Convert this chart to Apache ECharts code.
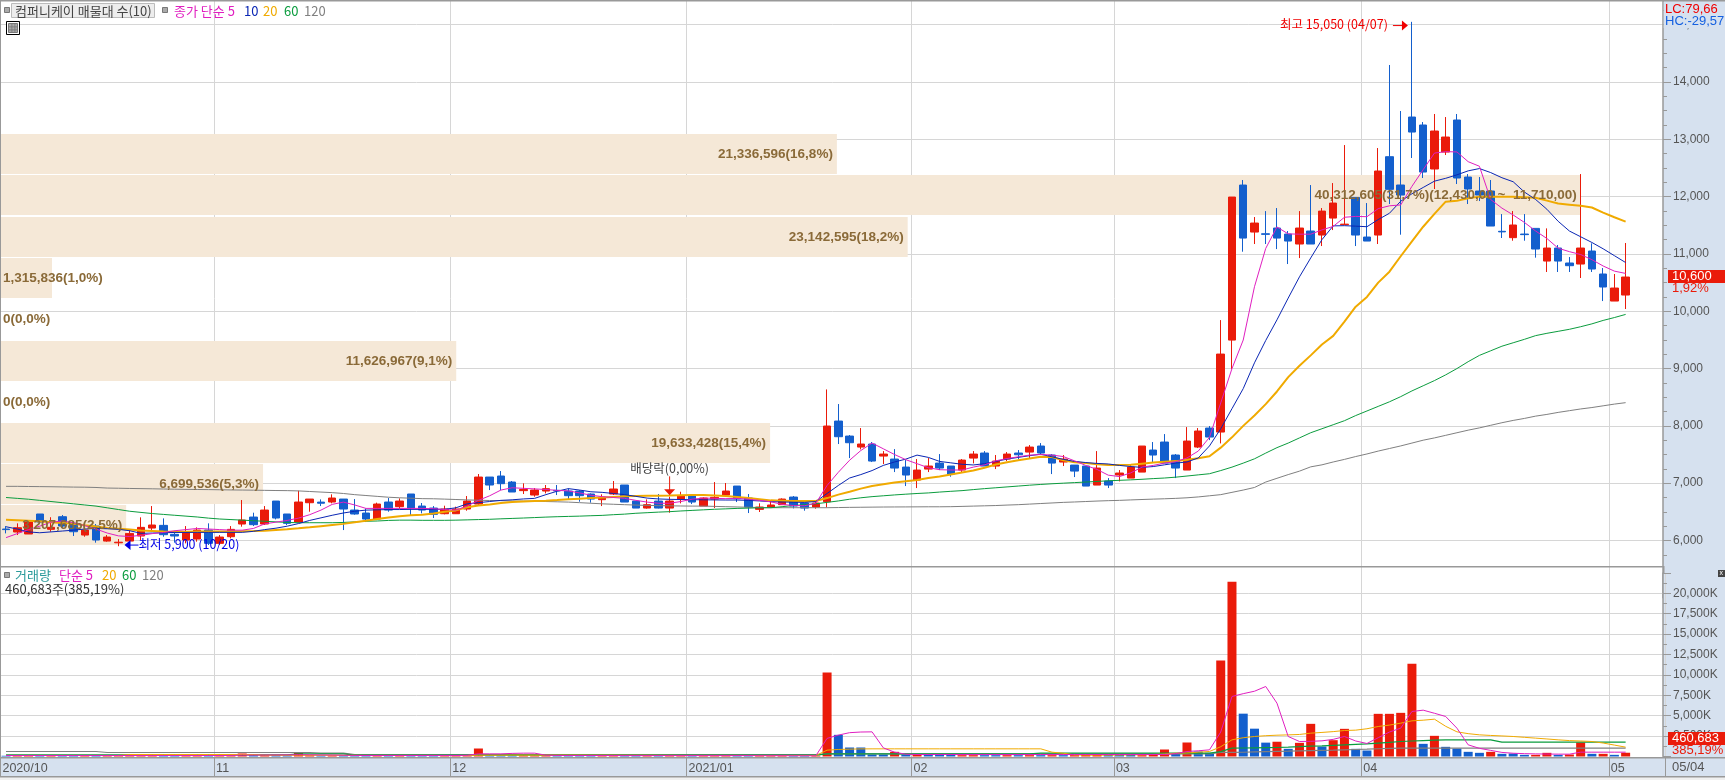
<!DOCTYPE html>
<html>
<head>
<meta charset="utf-8">
<style>
  html, body { margin: 0; padding: 0; background: #fff; }
  #chart { width: 1725px; height: 780px; }
</style>
<script src="https://cdn.jsdelivr.net/npm/echarts@6/dist/echarts.min.js"></script>
</head>
<body>
<div id="chart"></div>
<script>
const dates = ['10/05','10/06','10/07','10/08','10/12','10/13','10/14','10/15','10/16','10/19','10/20','10/21','10/22','10/23','10/26','10/27','10/28','10/29','10/30',
  '11/02','11/03','11/04','11/05','11/06','11/09','11/10','11/11','11/12','11/13','11/16','11/17','11/18','11/19','11/20','11/23','11/24','11/25','11/26','11/27','11/30',
  '12/01','12/02','12/03','12/04','12/07','12/08','12/09','12/10','12/11','12/14','12/15','12/16','12/17','12/18','12/21','12/22','12/23','12/24','12/28','12/29','12/30',
  '01/04','01/05','01/06','01/07','01/08','01/11','01/12','01/13','01/14','01/15','01/18','01/19','01/20','01/21','01/22','01/25','01/26','01/27','01/28','01/29',
  '02/01','02/02','02/03','02/04','02/05','02/08','02/09','02/10','02/15','02/16','02/17','02/18','02/19','02/22','02/23','02/24','02/25','02/26',
  '03/02','03/03','03/04','03/05','03/08','03/09','03/10','03/11','03/12','03/15','03/16','03/17','03/18','03/19','03/22','03/23','03/24','03/25','03/26','03/29','03/30','03/31',
  '04/01','04/02','04/05','04/06','04/07','04/08','04/09','04/12','04/13','04/14','04/15','04/16','04/19','04/20','04/21','04/22','04/23','04/26','04/27','04/28','04/29','04/30',
  '05/03','05/04']
// empty room on the right of the last candle
const blankDays = ['', '', '']
const monthStarts = ['10/05', '11/02', '12/01', '01/04', '02/01', '03/02', '04/01', '05/03']
const monthLabels = ['2020/10', '11', '12', '2021/01', '02', '03', '04', '05']

const opens = [6200,6148,6113,6462,6195,6415,6299,6095,6252,5990,5960,5990,6078,6217,6264,6107,6008,6025,6182,5950,6066,
  6287,6409,6287,6688,6462,6322,6659,6670,6671,6723,6531,6479,6374,6671,6590,6811,6601,6566,6467,6467,6549,6636,7107,7125,7020,
  6870,6793,6863,6875,6863,6863,6811,6712,6811,6968,6688,6566,6688,6566,6723,6776,6601,6723,6793,6950,6741,6543,6578,6625,6758,6654,6584,
  6676,8084,7822,7630,7683,7473,7421,7281,7054,7246,7351,7299,7229,7438,7526,7299,7421,7526,7543,7648,7491,7369,7316,7299,6967,7037,7142,7089,
  7194,7578,7718,7491,7229,7630,7962,7892,9497,12202,11382,11352,11452,11347,11173,11400,11330,11626,11510,11987,11295,11330,12697,12203,
  13389,13250,12482,12778,13337,12342,12098,12098,11395,11284,11347,11446,10876,11103,10842,10824,11051,10650,10178,10283]
const closes = [6190,6223,6322,6322,6230,6252,6153,6182,6008,6060,5970,6124,6229,6270,6101,6078,6136,6182,5950,6060,6194,
  6357,6276,6531,6392,6299,6671,6723,6650,6741,6549,6462,6374,6636,6531,6688,6566,6531,6456,6549,6549,6688,7107,6968,6991,6846,
  6890,6880,6904,6865,6782,6782,6723,6753,6898,6671,6566,6625,6566,6688,6782,6671,6741,6753,6863,6729,6584,6584,6619,6723,6601,6566,6654,
  7997,7811,7706,7683,7386,7508,7264,7142,7229,7299,7264,7159,7403,7508,7299,7386,7508,7496,7630,7526,7351,7421,7211,6950,7264,6967,7177,7281,
  7648,7491,7351,7264,7735,7910,7805,9253,11993,11277,11539,11342,11277,11225,11452,11173,11748,11888,11520,11330,11225,12447,12127,12028,
  13127,12429,13145,13040,12325,12133,12028,11487,11385,11505,11337,11086,11103,10876,10795,11103,10737,10423,10405,10597]
const lows = [6124,6095,6113,6300,6153,6212,6078,6066,5962,5979,5900,5962,6008,6182,6066,5962,5950,5979,5921,5921,6037,
  6241,6252,6270,6368,6270,6310,6502,6601,6648,6182,6450,6322,6357,6502,6549,6444,6473,6392,6456,6462,6520,6625,6880,6880,6846,
  6811,6764,6822,6793,6706,6677,6660,6601,6793,6671,6566,6555,6560,6485,6648,6636,6601,6566,6764,6671,6479,6497,6578,6625,6560,6520,6555,
  6577,7683,7438,7590,7369,7334,7194,6950,6915,7194,7229,7113,7194,7345,7299,7246,7386,7415,7438,7508,7159,7299,7107,6950,6967,6915,7031,7089,
  7194,7351,7351,7089,7229,7613,7752,7694,8990,11039,11173,11173,11085,10824,10928,11173,11138,11417,11504,11138,11225,11173,11871,11336,
  12674,12325,12133,12726,12220,11871,11923,11487,11278,11231,11231,10935,10685,10685,10685,10580,10685,10178,10178,10039]
const highs = [6252,6299,6357,6462,6406,6444,6328,6252,6287,6095,6025,6182,6404,6601,6386,6170,6252,6229,6299,6095,6252,
  6706,6485,6601,6688,6462,6869,6723,6717,6805,6723,6723,6560,6660,6741,6735,6811,6654,6601,6607,6590,6776,7160,7107,7212,7038,
  6997,6915,6968,6968,6909,6880,6822,6805,7038,6968,6688,6717,6811,6764,6851,6776,6753,7020,7003,6950,6811,6648,6694,6735,6776,6654,6706,
  8636,8381,7840,7962,7718,7560,7595,7403,7421,7438,7508,7299,7421,7560,7560,7491,7543,7578,7665,7700,7508,7491,7316,7299,7560,7089,7229,7334,
  7648,7718,7857,7508,7979,7962,7997,9846,11993,12290,11644,11748,11801,11400,11748,12202,11801,12237,12900,11987,11888,12848,14297,13494,
  15050,13302,13442,13389,13442,12394,12342,12290,11696,11749,11696,11446,11446,11156,10946,12394,11185,10754,10650,11191]

const ma5 = [6050,6120,6190,6250,6320,6340,6310,6260,6200,6130,6080,6070,6090,6120,6140,6170,6190,6210,6200,6190,6180,6180,6210,6290,6320,6350,6390,6450,6530,6630,6670,6620,6560,6560,6560,6560,6560,6560,6555,6540,6530,6600,6700,6780,6880,6920,6910,6900,6890,6875,6865,6830,6790,6765,6750,6735,6700,6670,6650,6650,6680,6720,6740,6735,6730,6735,6720,6700,6675,6630,6610,6607,6650,6960,7190,7400,7570,7700,7600,7500,7410,7340,7270,7235,7230,7230,7280,7320,7390,7430,7460,7490,7500,7490,7465,7390,7310,7240,7140,7115,7180,7280,7310,7350,7375,7440,7560,7800,8400,9000,9498,10428,11097,11470,11350,11345,11345,11420,11480,11640,11655,11650,11790,11840,11855,12180,12470,12760,12785,12780,12610,12530,11950,11800,11680,11550,11400,11270,11100,11040,10990,10900,10790,10700,10660]
const ma10 = [6240,6200,6150,6135,6150,6165,6180,6200,6210,6205,6195,6170,6125,6130,6135,6140,6140,6142,6142,6142,6142,6142,6160,6190,6215,6250,6295,6350,6395,6440,6480,6510,6530,6535,6540,6540,6543,6543,6543,6545,6570,6640,6660,6680,6700,6710,6725,6735,6800,6860,6905,6880,6850,6840,6820,6800,6770,6740,6725,6718,6715,6712,6710,6708,6706,6706,6700,6690,6677,6672,6668,6665,6680,6820,6960,7090,7150,7220,7310,7370,7420,7490,7450,7380,7355,7330,7318,7340,7380,7420,7450,7480,7505,7460,7415,7380,7360,7345,7335,7310,7290,7275,7290,7320,7350,7370,7440,7650,7950,8300,8650,9100,9490,9850,10230,10600,10930,11250,11490,11493,11485,11475,11600,11710,11920,12050,12160,12270,12320,12380,12450,12490,12420,12330,12260,12080,11950,11780,11570,11400,11300,11200,11090,10970,10850]
const ma20 = [6360,6355,6345,6335,6320,6305,6290,6265,6245,6220,6205,6190,6175,6165,6155,6153,6153,6155,6155,6155,6158,6160,6165,6172,6185,6195,6212,6230,6250,6270,6290,6320,6345,6375,6400,6425,6440,6450,6470,6500,6525,6580,6610,6630,6655,6670,6680,6690,6695,6705,6718,6730,6740,6750,6760,6770,6776,6780,6782,6785,6790,6793,6793,6785,6775,6760,6740,6720,6700,6695,6690,6688,6690,6740,6800,6850,6905,6950,6980,7010,7035,7055,7090,7115,7150,7185,7220,7270,7325,7365,7400,7430,7460,7455,7400,7365,7350,7330,7318,7316,7320,7340,7360,7375,7385,7410,7435,7470,7620,7800,8000,8180,8380,8600,8850,9050,9230,9420,9570,9820,10080,10250,10500,10690,10960,11220,11475,11700,11912,11930,11970,12000,12000,12000,12000,11990,11980,11930,11880,11860,11840,11810,11720,11640,11563]
const ma60 = [6750,6735,6720,6700,6680,6660,6640,6620,6600,6570,6540,6510,6490,6470,6455,6440,6425,6410,6390,6375,6365,6355,6345,6335,6325,6315,6310,6310,6310,6310,6315,6325,6335,6340,6350,6355,6355,6352,6352,6352,6355,6360,6365,6370,6378,6385,6392,6400,6408,6415,6420,6425,6432,6438,6450,6460,6475,6485,6495,6503,6515,6525,6535,6545,6552,6560,6565,6570,6572,6590,6610,6625,6640,6665,6690,6720,6745,6765,6780,6795,6808,6820,6830,6845,6858,6870,6888,6905,6920,6935,6950,6965,6978,6990,7000,7010,7020,7030,7042,7050,7058,7068,7080,7090,7105,7125,7145,7165,7220,7280,7350,7425,7525,7620,7700,7790,7880,7950,8020,8090,8180,8260,8340,8420,8510,8610,8700,8790,8890,9000,9120,9230,9310,9390,9450,9510,9575,9615,9650,9685,9730,9780,9840,9890,9945]
const ma120 = [6945,6945,6942,6940,6938,6935,6932,6930,6925,6915,6912,6908,6905,6902,6898,6895,6892,6890,6888,6885,6882,6880,6878,6875,6872,6870,6865,6855,6845,6835,6820,6800,6785,6770,6755,6745,6738,6730,6728,6722,6715,6708,6702,6698,6695,6690,6688,6685,6680,6675,6670,6660,6650,6640,6632,6625,6618,6612,6608,6605,6602,6600,6600,6595,6590,6585,6580,6575,6572,6572,6572,6572,6572,6572,6575,6578,6580,6582,6584,6585,6586,6587,6588,6588,6590,6595,6600,6605,6610,6618,6625,6635,6645,6655,6665,6672,6680,6688,6695,6700,6708,6715,6722,6728,6735,6745,6760,6780,6800,6840,6880,6925,7020,7085,7150,7210,7285,7320,7370,7415,7465,7510,7560,7605,7650,7700,7750,7790,7835,7880,7925,7965,8010,8055,8095,8130,8170,8200,8235,8265,8295,8320,8350,8380,8405]

// thousands of shares
const volumes = [90,100,110,120,90,100,110,120,130,90,80,120,110,130,100,90,100,110,130,120,140,370,150,170,160,130,450,130,110,120,150,130,110,120,110,130,140,100,90,110,100,180,980,110,120,130,120,110,130,100,110,120,110,100,130,120,100,110,90,120,130,110,100,120,110,100,120,110,100,120,110,100,110,10294,2655,1103,1103,245,245,572,245,200,200,200,200,160,160,160,160,160,160,160,160,160,160,160,200,200,200,200,200,160,200,858,370,1716,612,450,11760,21405,5250,3410,1700,1810,940,1675,4003,1225,2000,3390,940,735,5229,5229,5350,11356,1552,2532,1185,980,572,450,572,327,368,204,204,450,204,245,1716,327,327,204,461]
const volumeUp = [0,1,1,0,1,0,0,1,0,1,1,1,1,1,0,0,1,1,0,1,1,1,0,1,0,0,1,1,0,1,0,0,0,1,0,1,0,0,0,1,1,1,1,0,0,0,1,1,1,0,0,0,0,1,1,0,0,1,0,1,1,0,1,1,1,0,0,1,1,1,0,0,1,1,0,0,0,0,0,1,0,1,0,0,0,1,1,0,0,1,0,1,0,1,0,1,1,1,0,0,0,1,1,1,0,1,0,0,1,1,0,0,0,1,0,1,1,0,1,1,0,0,1,1,1,1,0,1,0,0,0,0,1,0,0,0,1,1,0,1,1,0,1,0,1]
const vma5 = [120,120,120,120,120,120,120,120,120,120,120,120,120,120,120,120,120,120,120,120,130,170,170,180,190,200,220,210,190,180,160,130,120,120,120,120,120,120,120,120,120,140,327,327,327,380,408,408,160,130,120,120,120,120,120,110,110,110,110,110,110,110,110,110,110,110,110,100,100,100,90,90,90,2220,2620,2920,3000,3020,1060,530,280,245,245,245,245,245,245,245,245,245,245,245,245,245,245,245,245,245,245,245,245,245,245,245,350,612,700,817,3000,7353,7700,8000,8579,6536,2451,1838,1860,1920,2100,2451,1900,1593,2300,3000,3472,5515,5678,5300,4902,3472,1430,1000,750,500,400,350,320,300,290,286,531,531,531,531,531]
const vma20 = [130,130,130,130,130,130,130,130,130,130,130,245,245,245,245,245,245,245,245,245,245,245,245,160,160,160,150,150,150,150,140,140,130,130,130,130,130,130,130,120,120,120,160,160,160,170,170,170,170,170,170,170,160,160,160,150,150,150,140,140,130,130,130,130,130,130,120,120,120,120,120,120,120,776,860,900,930,940,940,940,940,940,940,940,940,940,940,940,940,940,940,940,940,530,400,200,165,165,170,180,200,220,245,300,408,430,530,613,1200,2042,2300,2451,2550,2610,2650,2700,2860,2950,3050,3186,3230,3400,3676,3850,4085,4371,4450,4575,3700,3023,2800,2655,2580,2520,2451,2350,2250,2150,2042,1950,1900,1838,1650,1400,1144]
const vma60 = [200,200,200,200,200,200,200,200,200,200,200,200,200,200,200,200,200,200,200,200,200,200,200,200,200,200,327,327,327,327,327,160,160,160,160,160,160,160,160,160,160,160,160,160,160,160,160,160,160,160,160,160,160,160,160,160,160,160,160,160,160,160,160,160,160,160,160,160,160,160,160,160,160,330,330,330,330,330,330,330,330,330,330,330,330,330,330,330,330,330,330,330,410,410,410,410,410,410,410,410,410,410,410,410,410,410,410,410,600,1021,1040,1060,1080,1100,1144,1200,1260,1307,1370,1430,1490,1552,1640,1720,1838,1900,1950,2000,2042,2042,2042,2042,2042,1756,1756,1756,1756,1756,1756,1756,1756,1756,1756,1756,1756]
const vma120 = [612,612,612,612,612,612,612,612,612,490,490,490,490,490,490,490,490,490,490,490,490,490,490,490,490,490,490,490,410,410,410,245,245,245,245,245,245,245,245,245,245,245,245,245,245,245,245,245,245,245,245,245,245,245,245,245,245,245,245,245,245,245,245,245,245,245,245,245,245,245,245,245,245,327,327,327,327,327,327,327,327,327,327,327,327,327,327,327,327,327,327,327,327,327,327,327,327,327,327,327,327,327,327,327,327,327,327,327,500,500,520,560,600,640,660,690,720,745,770,817,860,900,950,990,1021,1021,1021,1021,1021,1021,1021,1021,1021,1021,1021,1021,1021,1021,1021,1021,1021,1021,1021,1021,1021]

// 매물대: shares at each price band
const bandLows = [12395, 11679, 10946, 10231, 9515, 8782, 8050, 7352, 6636, 5921]
const bandHighs = [13093, 12377, 11644, 10929, 10213, 9480, 8765, 8050, 7334, 6619]
const bandVolumes = [21336596, 40312605, 23142595, 1315836, 0, 11626967, 0, 19633428, 6699536, 3207685]
const bandLabels = ['21,336,596(16,8%)', '40,312,605(31,7%)(12,430,00 ~  11,710,00)', '23,142,595(18,2%)', '1,315,836(1,0%)', '0(0,0%)',
  '11,626,967(9,1%)', '0(0,0%)', '19,633,428(15,4%)', '6,699,536(5,3%)', '3,207,685(2,5%)']

const highNote = '최고 15,050 (04/07)'
const lowNote = '최저 5,900 (10/20)'
const exDivNote = '배당락(0,00%)'

const RED = '#ea1b0a'
const BLUE = '#135fcd'
const MAGENTA = '#e01fc0'
const NAVY = '#0a26b4'
const ORANGE = '#f0aa00'
const GREEN = '#0b9c3e'
const GRAY = '#808080'
const GRID = '#d6d6d6'
const PANEL = '#d6e1ef'
const BORDER = '#999999'
const KR = '"Noto Sans CJK KR", "Liberation Sans", sans-serif'
const NUM = '"Liberation Sans", "Noto Sans CJK KR", sans-serif'

function isMonthStart(value) {
  return monthStarts.indexOf(value) >= 0
}

function box(x, y, w, h, fill, z, stroke) {
  return { type: 'rect', z, shape: { x, y, width: w, height: h }, style: { fill, stroke: stroke || null, lineWidth: stroke ? 1 : 0 }, silent: true }
}

function label(x, y, text, fill, size, z, extra) {
  return {
    type: 'text', z, x, y, silent: true,
    style: Object.assign({ text, fill, font: size + 'px ' + KR, verticalAlign: 'middle', align: 'left' }, extra || {})
  }
}

function renderBand(params, api) {
  const i = params.dataIndex
  if (!bandVolumes[i]) return null
  const a = api.coord([0, bandHighs[i]])
  const b = api.coord([bandVolumes[i], bandLows[i]])
  return {
    type: 'rect',
    shape: { x: 0, y: a[1], width: b[0], height: b[1] - a[1] },
    style: { fill: '#f5e8d7' }
  }
}

function renderBandLabel(params, api) {
  const i = params.dataIndex
  const end = api.coord([bandVolumes[i], bandLows[i]])[0]
  const mid = (api.coord([0, bandHighs[i]])[1] + api.coord([0, bandLows[i]])[1]) / 2
  const narrow = end < 110
  return {
    type: 'text',
    x: narrow ? 3 : end - 4,
    y: mid,
    style: {
      text: bandLabels[i],
      fill: '#8a6a38',
      font: 'bold 13.5px ' + NUM,
      align: narrow ? 'left' : 'right',
      verticalAlign: 'middle'
    }
  }
}

function renderHigh(params, api) {
  const p = api.coord([api.value(0), api.value(1)])
  const tip = p[0] - 4
  return {
    type: 'group',
    children: [
      { type: 'line', shape: { x1: tip - 15, y1: p[1], x2: tip - 5, y2: p[1] }, style: { stroke: '#f00000', lineWidth: 1 } },
      { type: 'polygon', shape: { points: [[tip, p[1]], [tip - 6, p[1] - 5], [tip - 6, p[1] + 5]] }, style: { fill: '#f00000' } },
      { type: 'text', x: tip - 20, y: p[1] - 1, style: { text: highNote, fill: '#f00000', font: '12.5px ' + KR, align: 'right', verticalAlign: 'middle' } }
    ]
  }
}

function renderLow(params, api) {
  const p = api.coord([api.value(0), api.value(1)])
  const tip = p[0] + 6
  return {
    type: 'group',
    children: [
      { type: 'line', shape: { x1: tip + 5, y1: p[1], x2: tip + 14, y2: p[1] }, style: { stroke: '#0000e6', lineWidth: 1 } },
      { type: 'polygon', shape: { points: [[tip, p[1]], [tip + 6, p[1] - 5], [tip + 6, p[1] + 5]] }, style: { fill: '#0000e6' } },
      { type: 'text', x: tip + 14, y: p[1] - 1, style: { text: lowNote, fill: '#0000e6', font: '12.5px ' + KR, align: 'left', verticalAlign: 'middle' } }
    ]
  }
}

function renderExDiv(params, api) {
  const p = api.coord([api.value(0), api.value(1)])
  return {
    type: 'group',
    children: [
      { type: 'line', shape: { x1: p[0], y1: p[1] - 19, x2: p[0], y2: p[1] - 5 }, style: { stroke: RED, lineWidth: 1 } },
      { type: 'polygon', shape: { points: [[p[0], p[1]], [p[0] - 5.5, p[1] - 6], [p[0] + 5.5, p[1] - 6]] }, style: { fill: RED } },
      { type: 'text', x: p[0], y: p[1] - 27, style: { text: exDivNote, fill: '#444', font: '12.5px ' + KR, align: 'center', verticalAlign: 'middle' } }
    ]
  }
}

function maLine(name, data, color, width, axis, z) {
  return {
    name, type: 'line', data, xAxisIndex: axis, yAxisIndex: axis, z,
    showSymbol: false, silent: true, animation: false,
    lineStyle: { color, width }
  }
}

const allDays = dates.concat(blankDays)
const candles = dates.map((d, i) => [opens[i], closes[i], lows[i], highs[i]])

const chart = echarts.init(document.getElementById('chart'))

chart.setOption({
  animation: false,
  backgroundColor: '#fff',
  grid: [
    // price grid runs past the pane so that its axis can start on a round 5,000
    { left: 0.4, right: 60, top: -32.6, height: 630.4, outerBoundsMode: 'none' },
    { left: 0.4, right: 60, top: 572.9, height: 183.6, outerBoundsMode: 'none' }
  ],
  xAxis: [
    {
      type: 'category', gridIndex: 0, data: allDays,
      axisLine: { show: false }, axisTick: { show: false }, axisLabel: { show: false },
      splitLine: { show: true, interval: (i, v) => isMonthStart(v), lineStyle: { color: GRID, width: 1 } }
    },
    {
      type: 'category', gridIndex: 1, data: allDays, z: 5,
      axisLine: { show: false },
      axisTick: { show: true, interval: (i, v) => isMonthStart(v), length: 20, lineStyle: { color: BORDER, width: 1 } },
      axisLabel: {
        show: true, interval: (i, v) => isMonthStart(v), align: 'left', margin: 6, padding: [0, 0, 0, -3.6],
        formatter: v => monthLabels[monthStarts.indexOf(v)],
        color: '#555', fontSize: 12.5, fontFamily: NUM, hideOverlap: false
      },
      splitLine: { show: true, interval: (i, v) => isMonthStart(v), lineStyle: { color: GRID, width: 1 } }
    },
    { type: 'value', gridIndex: 0, min: 0, max: 42460000, show: false }
  ],
  yAxis: [
    {
      type: 'value', gridIndex: 0, position: 'right', offset: -2, min: 5000, max: 16000, interval: 1000, z: 3,
      axisLine: { show: true, onZero: false, lineStyle: { color: BORDER, width: 1.5 } },
      axisTick: { show: true, length: 8, lineStyle: { color: BORDER } },
      minorTick: { show: true, splitNumber: 4, length: 4, lineStyle: { color: BORDER } },
      axisLabel: { color: '#555', fontSize: 12, fontFamily: NUM, margin: 10, showMinLabel: false, showMaxLabel: false, formatter: v => v.toLocaleString('en-US') },
      splitLine: { show: true, showMinLine: false, showMaxLine: false, lineStyle: { color: GRID, width: 1 } }
    },
    {
      type: 'value', gridIndex: 1, position: 'right', offset: -2, min: 0, max: 22500, interval: 2500, z: 5,
      axisLine: { show: true, onZero: false, lineStyle: { color: BORDER, width: 1.5 } },
      axisTick: { show: true, length: 8, lineStyle: { color: BORDER } },
      minorTick: { show: true, splitNumber: 2, length: 4, lineStyle: { color: BORDER } },
      axisLabel: { color: '#555', fontSize: 12, fontFamily: NUM, margin: 10, showMinLabel: false, showMaxLabel: false, formatter: v => v.toLocaleString('en-US') + 'K' },
      splitLine: { show: true, showMinLine: false, showMaxLine: false, lineStyle: { color: GRID, width: 1 } }
    }
  ],
  series: [
    { type: 'custom', name: 'bands', xAxisIndex: 2, yAxisIndex: 0, z: 4, silent: true, clip: false, data: bandVolumes, renderItem: renderBand },
    {
      type: 'candlestick', name: 'price', xAxisIndex: 0, yAxisIndex: 0, z: 5, silent: true, data: candles, barWidth: 8,
      itemStyle: { color: RED, color0: BLUE, borderColor: RED, borderColor0: BLUE, borderWidth: 1 }
    },
    maLine('단순 120', ma120, GRAY, 1, 0, 6),
    maLine('단순 60', ma60, GREEN, 1, 0, 6),
    maLine('단순 20', ma20, ORANGE, 2, 0, 6),
    maLine('단순 10', ma10, NAVY, 1, 0, 6),
    maLine('단순 5', ma5, MAGENTA, 1, 0, 6),
    { type: 'custom', name: 'bandLabels', xAxisIndex: 2, yAxisIndex: 0, z: 7, silent: true, clip: false, data: bandVolumes, renderItem: renderBandLabel },
    { type: 'custom', name: 'high', xAxisIndex: 0, yAxisIndex: 0, z: 8, silent: true, clip: false, data: [[125, 14985]], renderItem: renderHigh },
    { type: 'custom', name: 'low', xAxisIndex: 0, yAxisIndex: 0, z: 8, silent: true, clip: false, data: [[10, 5920]], renderItem: renderLow },
    { type: 'custom', name: 'exDiv', xAxisIndex: 0, yAxisIndex: 0, z: 8, silent: true, clip: false, data: [[59, 6788]], renderItem: renderExDiv },
    {
      type: 'bar', name: '거래량', xAxisIndex: 1, yAxisIndex: 1, z: 6, silent: true, barWidth: 9,
      data: volumes.map((v, i) => ({ value: v, itemStyle: { color: volumeUp[i] ? RED : BLUE } }))
    },
    maLine('거래량 120', vma120, GRAY, 1.2, 1, 7),
    maLine('거래량 60', vma60, GREEN, 1.2, 1, 7),
    maLine('거래량 20', vma20, ORANGE, 1, 1, 7),
    maLine('거래량 5', vma5, MAGENTA, 1, 1, 7)
  ],
  graphic: {
    elements: [
      // panels and pane borders
      box(1663, 0, 62, 566, PANEL, 2),
      box(1663, 566, 62, 191, PANEL, 4),
      box(0, 757, 1725, 20, PANEL, 4),
      box(0, 777, 1725, 3, '#f0f0f0', 4),
      box(0, 0, 1725, 1.5, BORDER, 9),
      box(0, 0, 1, 777, BORDER, 9),
      box(0, 566, 1663, 1.5, BORDER, 9),
      box(1663, 566, 1.5, 8, BORDER, 9),
      box(0, 757, 1725, 1.5, BORDER, 9),
      box(0, 776, 1725, 1.5, BORDER, 9),

      // top legend
      box(4.5, 7.5, 5, 5, '#aaa', 9, '#777'),
      box(11.5, 3.5, 143, 14, '#ededed', 9, '#bbb'),
      label(15, 11, '컴퍼니케이 매물대 수(10)', '#444', 13, 10),
      box(162.5, 7.5, 5, 5, '#aaa', 9, '#777'),
      label(174, 11, '종가 단순 5', MAGENTA, 13, 10),
      label(244, 11, '10', NAVY, 13, 10),
      label(263, 11, '20', ORANGE, 13, 10),
      label(284, 11, '60', GREEN, 13, 10),
      label(304, 11, '120', GRAY, 13, 10),
      box(6.5, 21.5, 13, 13, '#fff', 9, '#000'),
      box(8.5, 23.5, 9, 9, '#aaa', 9, '#777'),
      box(11.5, 23.5, 0.8, 9, '#777', 9),
      box(14.5, 23.5, 0.8, 9, '#777', 9),
      box(8.5, 26.5, 9, 0.8, '#777', 9),
      box(8.5, 29.5, 9, 0.8, '#777', 9),

      // volume legend
      box(4.5, 572.5, 5, 5, '#aaa', 9, '#777'),
      label(15, 575, '거래량', '#2a9a9a', 13, 10),
      label(59, 575, '단순 5', MAGENTA, 13, 10),
      label(102, 575, '20', ORANGE, 13, 10),
      label(122, 575, '60', GREEN, 13, 10),
      label(142, 575, '120', GRAY, 13, 10),
      label(5, 589, '460,683주(385,19%)', '#333', 13, 10),

      // right panel readouts
      box(1663.75, 2, 60, 26, PANEL, 9),
      label(1665, 9, 'LC:79,66', '#f00000', 13, 10, { font: '13px ' + NUM }),
      label(1665, 21, 'HC:-29,57', '#1560e0', 13, 10, { font: '13px ' + NUM }),
      box(1668, 270, 57, 13, RED, 9),
      label(1672, 276.5, '10,600', '#fff', 13, 10, { font: '13px ' + NUM }),
      label(1672, 288, '1,92%', RED, 13, 10, { font: '13px ' + NUM }),
      box(1668, 732, 57, 13, RED, 9),
      label(1672, 738.5, '460,683', '#fff', 13, 10, { font: '13px ' + NUM }),
      label(1672, 750, '385,19%', RED, 13, 10, { font: '13px ' + NUM }),
      box(1718, 570, 7, 7, '#444', 9),
      label(1719.5, 573.5, 'x', '#fff', 7, 10, { font: '7px ' + NUM }),
      label(1672, 767, '05/04', '#555', 13, 10, { font: '13px ' + NUM })
    ]
  }
})
</script>
</body>
</html>
